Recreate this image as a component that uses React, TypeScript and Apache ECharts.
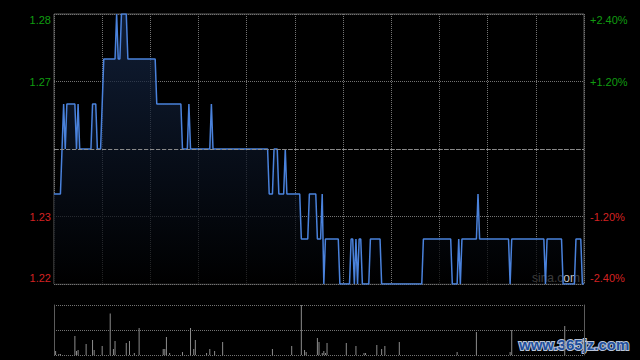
import React, { useEffect, useRef } from "react";
import * as echarts from "echarts";

// previous close
const prevClose = 1.25;

// minute-of-session (0..330) and price at change points
const priceMinutes = [0, 4, 5, 6, 7, 8, 13, 14, 15, 16, 23, 24, 26, 27, 29, 30, 31, 38, 39, 40, 41, 42, 45, 46, 63, 64, 79, 80, 83, 84, 85, 97, 98, 99, 133, 134, 136, 137, 139, 140, 143, 144, 145, 153, 154, 158, 159, 163, 164, 166, 167, 168, 169, 177, 178, 184, 185, 186, 187, 188, 189, 190, 191, 192, 196, 197, 203, 204, 229, 230, 247, 248, 251, 252, 253, 254, 263, 264, 265, 283, 284, 285, 305, 306, 307, 316, 317, 324, 325, 328, 329, 330];
const priceValues = [1.24, 1.24, 1.25, 1.26, 1.25, 1.26, 1.26, 1.25, 1.26, 1.25, 1.25, 1.26, 1.26, 1.25, 1.25, 1.26, 1.27, 1.27, 1.28, 1.27, 1.27, 1.28, 1.28, 1.27, 1.27, 1.26, 1.26, 1.25, 1.25, 1.26, 1.25, 1.25, 1.26, 1.25, 1.25, 1.24, 1.24, 1.25, 1.25, 1.24, 1.24, 1.25, 1.24, 1.24, 1.23, 1.23, 1.24, 1.24, 1.23, 1.23, 1.24, 1.22, 1.23, 1.23, 1.22, 1.22, 1.23, 1.23, 1.22, 1.23, 1.22, 1.23, 1.23, 1.22, 1.22, 1.23, 1.23, 1.22, 1.22, 1.23, 1.23, 1.22, 1.22, 1.23, 1.22, 1.23, 1.23, 1.24, 1.23, 1.23, 1.22, 1.23, 1.23, 1.22, 1.23, 1.23, 1.22, 1.22, 1.23, 1.23, 1.22, 1.22];

// volume bars (minute, relative volume)
const volMinutes = [1, 3, 4, 13, 14, 15, 20, 24, 25, 30, 35, 37, 38, 45, 47, 50, 53, 68, 69, 70, 72, 80, 85, 87, 88, 95, 97, 100, 105, 136, 148, 154, 156, 157, 164, 165, 167, 168, 169, 170, 182, 188, 193, 194, 201, 204, 206, 215, 251, 263, 284, 285, 318];
const volValues = [80, 20, 20, 380, 80, 100, 220, 300, 100, 180, 830, 120, 280, 240, 280, 40, 540, 120, 120, 360, 40, 60, 540, 120, 300, 40, 120, 80, 260, 120, 180, 1000, 100, 60, 340, 260, 40, 80, 40, 240, 240, 180, 40, 40, 200, 120, 180, 260, 60, 460, 60, 500, 580];

// axis ticks (percent change from previous close)
const pctTicks = [-2.4, -1.2, 0, 1.2, 2.4];
const priceTickLabels = ["1.22", "1.23", "", "1.27", "1.28"];
const pctTickLabels = ["-2.40%", "-1.20%", "", "+1.20%", "+2.40%"];

const GREEN = "#109c10";
const RED = "#d42222";
const FONT = "'Liberation Sans', Arial, sans-serif";

const richStyles = {
  gt: { color: GREEN, fontSize: 11, fontFamily: FONT, padding: [12, 0, 0, 0] },
  g: { color: GREEN, fontSize: 11, fontFamily: FONT },
  r: { color: RED, fontSize: 11, fontFamily: FONT },
  rb: { color: RED, fontSize: 11, fontFamily: FONT, padding: [0, 0, 12, 0] },
};

function tickFormatter(labels: string[]) {
  return (value: number) => {
    const idx = pctTicks.findIndex((t) => Math.abs(t - value) < 1e-6);
    if (idx < 0 || !labels[idx]) return "";
    const key = idx === pctTicks.length - 1 ? "gt" : idx === 0 ? "rb" : pctTicks[idx] > 0 ? "g" : "r";
    return `{${key}|${labels[idx]}}`;
  };
}

export default function App() {
  const ref = useRef<HTMLDivElement>(null);
  useEffect(() => {
    if (!ref.current) return;
    const chart = echarts.init(ref.current, undefined, { renderer: "svg" });
    const lineData = priceMinutes.map((m, i) => [m, (priceValues[i] / prevClose - 1) * 100]);
    const volData = volMinutes.map((m, i) => [m, volValues[i]]);
    const dotted = { color: "#737373", type: [1, 1] as any, width: 1 };
    chart.setOption({
      animation: false,
      backgroundColor: "#000000",
      grid: [
        { left: 54, top: 14, width: 530, height: 270, show: true, borderColor: "#5c5c5c", borderWidth: 1, backgroundColor: "transparent" },
        { left: 54, top: 305, width: 530, height: 50 },
      ],
      xAxis: [
        {
          type: "value", gridIndex: 0, min: 0, max: 330, interval: 30,
          axisLine: { show: false }, axisTick: { show: false }, axisLabel: { show: false },
          splitLine: { show: true, lineStyle: dotted },
        },
        {
          type: "value", gridIndex: 1, min: 0, max: 330, interval: 30,
          axisLine: { show: false }, axisTick: { show: false }, axisLabel: { show: false },
          splitLine: { show: false },
        },
      ],
      yAxis: [
        {
          type: "value", gridIndex: 0, min: -2.4, max: 2.4, interval: 1.2, position: "left",
          axisLine: { show: false }, axisTick: { show: false },
          axisLabel: { show: true, margin: 3, formatter: tickFormatter(priceTickLabels), rich: richStyles },
          splitLine: { show: true, lineStyle: dotted },
        },
        {
          type: "value", gridIndex: 0, min: -2.4, max: 2.4, interval: 1.2, position: "right",
          axisLine: { show: false }, axisTick: { show: false },
          axisLabel: { show: true, margin: 6, formatter: tickFormatter(pctTickLabels), rich: richStyles },
          splitLine: { show: false },
        },
        {
          type: "value", gridIndex: 1, min: 0, max: 1000, interval: 500, position: "left",
          axisLine: { show: true, lineStyle: { color: "#5c5c5c", width: 1 } },
          axisTick: { show: false }, axisLabel: { show: false },
          splitLine: { show: true, lineStyle: dotted },
        },
        {
          type: "value", gridIndex: 1, min: 0, max: 1000, interval: 500, position: "right",
          axisLine: { show: true, lineStyle: { color: "#5c5c5c", width: 1 } },
          axisTick: { show: false }, axisLabel: { show: false },
          splitLine: { show: false },
        },
      ],
      series: [
        {
          type: "line", xAxisIndex: 0, yAxisIndex: 0, data: lineData,
          showSymbol: false, symbol: "none",
          lineStyle: { color: "#4a82dc", width: 1.5 },
          areaStyle: {
            origin: "start",
            color: new echarts.graphic.LinearGradient(0, 0, 0, 1, [
              { offset: 0, color: "#172a4c" },
              { offset: 1, color: "#000000" },
            ]),
          },
          markLine: {
            silent: true, symbol: "none", label: { show: false },
            lineStyle: { color: "#8a8a8a", type: [4, 2] as any, width: 1 },
            data: [{ yAxis: 0 }],
          },
          z: 3,
        },
        {
          type: "bar", xAxisIndex: 1, yAxisIndex: 2, data: volData,
          barWidth: 1, itemStyle: { color: "#8c8c8c" },
        },
      ],
      graphic: [
        {
          type: "text", left: 532, top: 272,
          style: { text: "sina.com", fill: "#c4c4c4", fontSize: 12, fontFamily: FONT },
        },
        {
          type: "text", left: 518, top: 336,
          style: {
            text: "www.365jz.com", fill: "#1f4f9c", stroke: "#b8c4d8", lineWidth: 2,
            fontSize: 15, fontWeight: "bold", fontFamily: FONT,
          },
        },
      ],
    });
    return () => chart.dispose();
  }, []);
  return (
    <div
      ref={ref}
      style={{ position: "fixed", left: 0, top: 0, width: 640, height: 360, background: "#000" }}
    />
  );
}
